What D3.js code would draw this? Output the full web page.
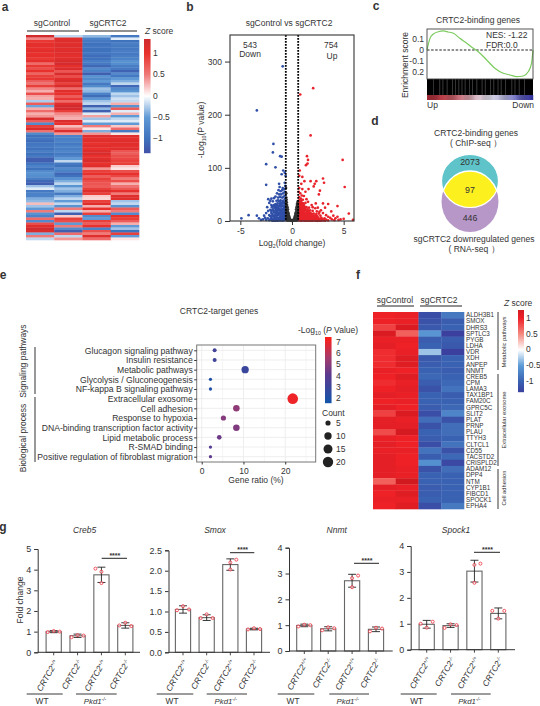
<!DOCTYPE html>
<html><head><meta charset="utf-8">
<script src="https://d3js.org/d3.v7.min.js"></script>
<style>html,body{margin:0;padding:0;background:#fff}svg{display:block}text{font-family:"Liberation Sans",Arial,sans-serif;fill:#333}</style>
</head><body><div id="c"></div>
<script>
// ---------- Panel a ----------
const heatColumnsA = ["sgControl","sgControl","sgCRTC2","sgCRTC2"];
const aCtrl1 = [1.3,.45,.95,1.05,1.05,1.0,1.1,1.0,1.05,.95,1.05,.6,.95,.8,1.0,.65,.9,.95,.7,.55,.9,.45,.3,.8,.35,.3,-.25,.7,-.45,.3,.6,.3,.4,1.2,.7,-.7,.9,1.2,.55,-.7,
 -1,-.95,-1.05,-.95,-.9,-1,-.85,-1,-.9,-1.2,-1.2,-.95,-.8,-1,-.7,-.6,-.65,-.85,-1.1,-1.2,-.3,-.1,-.9,-.8,-.8,-.4,-.35,.25,-.3,-.5,.5,-.6,-.8,.6,-.7,.8,1.1,1.3,1.2,-.4,.5,-.2];
const aCtrl2 = [-.2,1.1,1.15,1.1,1.15,1.1,1.15,1.1,1.05,1.1,1.2,1.25,1.05,1.2,.75,1.2,.8,1.1,1.2,.9,1.2,.6,1.1,1.0,.7,.95,.6,1.1,1.3,1.25,.9,.45,.35,.3,1.2,1.0,.25,.5,1.15,.4,
 -.8,-.85,-.8,-.9,-.8,-.85,-.75,-.9,-.8,-.5,-.2,-.9,-1,-.7,-.8,-1.1,-1,-.6,-.4,-.2,-.6,-.3,-.4,-.9,-.4,-.2,-.5,-.2,-.6,.5,-.2,-1.2,.2,.9,.8,-.5,.5,-.7,-1.2,.6,-.2,.4];
const aCrtc1 = [-.35,-.8,-.9,-1,-.95,-1,-1,-.95,-1.05,-1,-.85,-.9,-1.1,-.7,-.8,-1.2,-.6,-.7,-.5,-.9,-.7,-.3,-.35,-.8,-1.05,-.55,-.3,-.2,-1.2,-.35,-1.2,-.1,.35,-.3,-.1,-.5,.5,.1,-.4,.4,
 1.1,1.05,1.1,1,1.1,1.0,1.15,1.2,1,1.1,1.2,1.0,1.1,.4,.9,1.0,.7,.9,.8,.75,.7,.9,1.15,.9,.2,.15,.9,1.1,.3,1.0,.3,.9,-.7,-.5,.9,.7,1,-.8,.8,.5,1.1,.6];
const aCrtc2 = [-.9,-.1,-1,-.85,-.9,-.9,-.85,-.9,-.85,-.8,-.6,-.65,-.85,-.9,-1.15,-.7,-.9,-.5,-.4,-.2,-1.1,-.7,-.6,-.2,-.3,-.15,-.2,.3,-.6,.7,-.1,.3,-.5,-.2,-.1,-.5,.2,.6,-.9,.1,
 1.1,1.05,1.1,1.1,1.05,1.1,.75,.7,.8,.85,.9,.9,.2,.1,.8,1,.85,.5,.8,.3,.55,.75,1.05,.5,1.1,1.1,-.3,-.2,-.6,.7,.5,-.7,1,.9,.7,.3,-.5,-.3,-1,.9,-.5,.1];
const zTicksA = [1,0.5,0,-0.5,-1];

// ---------- Panel b ----------
const downPts = [[-.9,291],[-3.4,208],[-1.8,145],[-1.85,129],[-1.15,122],[-1.0,121],[-2.5,107],[-1.6,101],[-.85,95],[-.7,91],[-1.0,88],[-.62,85],[-2.5,68],[-1.25,70],[-.9,62],[-.7,72],[-.65,66],[-4.9,5],[-4.2,11],[-3.4,10],[-3.2,5],[-3.0,2],[-2.8,3],[-1.2,64],[-.75,60],[-.95,58],[-1.1,56],[-1.3,58],[-.7,55],[-.85,52],[-1.05,50],[-1.25,50],[-1.45,52],[-.65,48],[-.8,46],[-.95,44],[-1.15,45],[-1.35,44],[-1.6,46],[-1.75,43],[-2.0,42],[-.7,41],[-.9,38],[-1.1,39],[-1.25,37],[-1.5,38],[-1.85,37],[-2.1,38],[-2.3,41],[-.65,36],[-.8,33],[-1.0,34],[-1.2,32],[-1.4,33],[-1.6,32],[-1.75,30],[-2.0,30],[-2.2,34],[-.7,29],[-.9,28],[-1.05,27],[-1.3,28],[-1.5,26],[-1.7,25],[-1.95,26],[-2.4,26],[-.65,24],[-.85,23],[-1.0,22],[-1.2,23],[-1.4,21],[-1.6,20],[-1.85,22],[-2.1,21],[-2.3,19],[-.7,18],[-.9,17],[-1.1,18],[-1.3,16],[-1.5,17],[-1.75,16],[-2.0,15],[-2.5,15],[-.65,13],[-.8,12],[-1.0,13],[-1.15,12],[-1.35,11],[-1.6,12],[-1.8,10],[-2.2,11],[-2.7,10],[-.7,8],[-.95,8],[-1.2,7],[-1.45,7],[-1.7,6],[-2.0,6],[-2.35,5],[-2.6,6],[-.65,4],[-.85,3],[-1.05,4],[-1.25,3],[-1.5,2],[-1.75,3],[-1.95,2],[-2.2,1.5],[-2.5,2],[-.7,1.5],[-.95,1],[-1.15,1],[-1.4,.5],[-1.65,1],[-1.9,.5],[-.75,26],[-.9,15],[-1.1,9],[-1.25,20],[-.8,6],[-1.4,14],[-1.05,31],[-1.3,24],[-1.55,10],[-.62,30],[-.62,20],[-.62,10],[-.68,14],
 [-.75,36],[-.95,33],[-1.15,36],[-1.35,39],[-.8,28],[-1.15,28],[-1.45,30],[-1.65,28],[-1.85,28],[-.75,21],[-.95,20],[-1.15,21],[-1.35,25],[-1.55,23],[-1.8,19],[-2.0,19],[-.78,15],[-1.0,16],[-1.2,15],[-1.45,19],[-1.65,16],[-1.9,13],[-2.1,9],[-.75,10],[-.9,10],[-1.3,12],[-1.5,13],[-1.7,9],[-1.95,9],[-.85,6],[-1.05,6],[-1.3,5],[-1.55,5],[-1.85,4],[-2.1,3],[-.75,3],[-.95,3],[-1.15,2.5],[-1.35,2],[-1.6,2.5],[-.85,.8],[-1.05,1.5],[-1.3,1],[-1.55,.6],[-1.75,.6]];
const upPts = [[2.05,250],[.8,238],[1.8,161],[4.9,115],[1.45,122],[1.55,115],[1.35,105],[1.5,108],[.75,95],[.7,85],[1.0,83],[3.0,80],[3.1,72],[1.2,75],[1.8,75],[2.35,75],[2.2,70],[2.1,65],[5.1,64],[.9,70],[1.0,60],[1.3,55],[1.6,60],[2.7,57],[2.6,50],[3.5,32],[3.0,33],[3.2,25],[4.4,28],[5.5,14],[5.0,4],[5.9,2],[4.7,3],[4.4,8],[4.0,10],[3.8,18],[4.2,5],[3.5,8],[2.8,20],[2.5,25],[.7,62],[.65,55],[.8,52],[.95,48],[1.15,47],[.7,45],[.85,42],[1.05,40],[1.4,41],[.65,38],[.8,35],[.95,34],[1.1,33],[1.3,34],[1.55,36],[1.9,30],[2.3,33],[.68,30],[.85,28],[1.0,29],[1.2,27],[1.4,26],[1.65,25],[2.0,26],[2.25,24],[.65,25],[.8,23],[.95,22],[1.1,24],[1.3,21],[1.5,22],[1.75,20],[2.0,19],[2.4,18],[2.65,17],[.7,19],[.85,18],[1.0,17],[1.15,18],[1.35,16],[1.55,15],[1.8,15],[2.1,14],[2.35,13],[2.6,14],[3.0,15],[.65,14],[.8,13],[.95,12],[1.1,13],[1.25,11],[1.45,12],[1.65,10],[1.9,11],[2.15,10],[2.45,9],[2.75,10],[3.3,11],[.7,10],[.85,9],[1.0,8],[1.15,9],[1.3,7],[1.5,8],[1.7,7],[1.95,6],[2.2,7],[2.5,6],[2.85,6],[3.15,5],[3.7,6],[.65,6],[.8,5],[.95,5],[1.1,4.5],[1.25,5],[1.4,4],[1.6,4],[1.8,3.5],[2.05,4],[2.3,3.5],[2.6,3],[2.95,3],[3.3,2.5],[3.85,3],[4.5,2],[.7,3],[.85,2.5],[1.0,2],[1.15,2.5],[1.3,1.5],[1.5,2],[1.7,1.5],[1.9,1],[2.15,1.5],[2.4,1],[2.7,1.5],[3.05,1],[3.5,1],[4.1,1.5],[.68,1],[.9,.8],[1.2,.6],[1.45,.7],[1.75,.5],[2.0,.6],[2.55,.5],[2.85,.6],[3.2,.5],[.78,16],[1.05,15],[1.22,20],[.88,32],[1.6,18],[1.85,8],[.72,24],[1.35,9],[.62,33],[.62,22],[.62,12],[.62,4],
 [.75,40],[.9,38],[.75,33],[.95,30],[1.15,30],[.72,27],[.9,25],[1.05,26],[1.3,25],[.75,21],[.9,20],[1.05,20],[1.2,23],[1.45,19],[1.65,17],[.78,14],[.9,15],[1.1,16],[1.25,14],[1.45,15],[1.7,13],[1.95,13],[.75,7],[.9,10],[1.05,10],[1.2,12],[1.35,12],[1.55,11],[1.8,12],[2.05,8],[2.3,10],[.75,4],[.92,7],[1.05,6],[1.2,7],[1.4,6],[1.6,6],[1.85,5.5],[2.1,5],[2.35,5.5],[2.7,4.5],[.78,1.5],[.95,3],[1.1,3],[1.25,3],[1.42,2.5],[1.6,2.5],[1.85,2],[2.05,2.5],[2.25,2],[2.5,2],[2.8,2.5],[3.1,2],[.85,.6],[1.05,1],[1.35,.7],[1.6,.8],[1.85,.6],[2.25,.6],[2.45,.4],[2.7,.5]];
const nsPts = [[-.58,62],[-.56,52],[-.55,44],[-.52,40],[-.5,35],[-.55,30],[-.48,30],[-.44,26],[-.52,24],[-.46,20],[-.4,22],[-.55,18],[-.5,15],[-.42,17],[-.36,16],[-.32,13],[-.48,11],[-.4,11],[-.55,8],[-.34,9],[-.28,9],[-.45,7],[-.38,6],[-.3,6],[-.24,6],[-.52,4],[-.42,3.5],[-.33,3.5],[-.26,3.5],[-.2,3.5],[-.16,2.5],[-.5,1],[-.4,1],[-.3,1],[-.22,1.5],[-.14,1.5],[-.1,1],[-.06,.6],[-.02,.3],[.02,.3],[.06,.6],[.1,1],[.14,1.5],[.22,1.5],[.3,1],[.4,1],[.5,1],[.16,2.5],[.2,3.5],[.26,3.5],[.33,3.5],[.42,3.5],[.52,4],[.24,6],[.3,6],[.38,6],[.45,7],[.55,8],[.28,9],[.34,9],[.4,11],[.48,11],[.32,13],[.36,16],[.42,17],[.5,15],[.55,18],[.4,22],[.46,20],[.52,24],[.44,26],[.48,30],[.55,30],[.5,33],[.56,37],[.58,24],[-.35,3],[-.28,2],[.28,2],[.35,3],[-.45,13],[.45,13],[-.5,20],[.5,20],[-.58,34],[.58,14]];
const foldCut = [-0.6,0.6];
const xTicksB = [-5,0,5], yTicksB = [0,100,200,300];

// ---------- Panel c ----------
const esRank = [0,.028,.06,.107,.154,.2,.25,.31,.375,.437,.484,.563,.64,.72,.783,.846,.908,.955,.986,1];
const esVal  = [0,.104,.143,.163,.17,.161,.149,.104,.06,.015,-.015,-.089,-.163,-.208,-.223,-.238,-.232,-.194,-.119,0];
const hitRank = [.06,.12,.15,.19,.24,.27,.3,.33,.36,.4,.43,.47,.52,.55,.6,.63,.67,.7,.74,.8,.83,.87,.92];
const esTicks = [[.1,"0.1"],[0,"0"],[-.1,"-0.1"],[-.2,"0.2"]];
const stripStops = ["#a02a35","#b8404a","#c56a75","#d8b0bb","#dcd8e8","#b8b8dd","#6a6ac0","#2c2c96"];

// ---------- Panel d ----------
const vennLabels = ["2073","97","446"];

// ---------- Panel e ----------
const terms = ["Glucagon signaling pathway","Insulin resistance","Metabolic pathways","Glycolysis / Gluconeogenesis","NF-kappa B signaling pathway","Extracellular exosome","Cell adhesion","Response to hypoxia","DNA-binding transcription factor activity","Lipid metabolic process","R-SMAD binding","Positive regulation of fibroblast migration"];
const geneRatio = [3.1,3.1,10.4,2.1,2.1,21.8,8.3,5.2,8.3,4.2,2.1,2.1];
const termCount = [3,3,10,2,2,21,8,5,8,4,2,2];
const termLogP  = [3.2,3.1,2.9,2.0,2.0,7,5.1,4.9,4.8,4.4,3.8,4.1];
const pTicks = [7,6,5,4,3,2];
const countTicks = [5,10,15,20];

// ---------- Panel f ----------
const genesF = ["ALDH3B1","SMOX","DHRS3","SPTLC3","PYGB","LDHA","VDR","XDH","ANPEP","NNMT","CREB5","CPM","LAMA3","TAX1BP1","FAM20C","GPRC5C","SLIT2","PLAT","PRNP","PLAU","TTYH3","CLTCL1","CD55","TACSTD2","CRISPLD2","ADAM12","DPP4","NTM","CYP1B1","FIBCD1","SPOCK1","EPHA4"];
const fCtrl1 = [1,1,.85,1.2,1.05,1.1,.95,.95,.95,1.05,1.0,.95,1.0,1.1,1.0,1.1,.85,1.1,1.1,.8,1.05,1.1,1.05,1.1,1.1,1.1,1.1,.7,1.1,1.0,1.05,1.0];
const fCtrl2 = [1.05,1.05,1.2,.7,1.05,1,1.05,1.15,1.15,1,1.15,1.05,1.1,1.05,1.05,1.0,1.2,1.05,1.1,1.25,1.0,1.0,1.05,1.0,1.0,1.05,1.05,1.3,1.05,1.15,1.05,1.15];
const fCrtc1 = [-1.2,-1.15,-1.1,-.55,-1.05,-1.0,-.3,-1.1,-1.05,-1,-.95,-1.05,-1.15,-1.0,-1.0,-1.05,-1.2,-.9,-1.15,-1.0,-1.05,-1.2,-.85,-1.05,-.6,-1.15,-1.0,-1.0,-1.05,-1.05,-1.0,-1.2];
const fCrtc2 = [-.8,-1.05,-1.0,-1.35,-1.05,-1.1,-1.35,-1.0,-1.0,-1.05,-1,-.95,-.85,-1.05,-1.0,-.95,-.7,-1.15,-.9,-.9,-1.0,-.85,-1.15,-.95,-1.25,-.9,-1.0,-1.0,-1.0,-1.0,-1.0,-.8];
const zTicksF = [1,0.5,0,-0.5,-1];

// ---------- Panel g ----------
const groupsG = ["+/+","-/-","+/+","-/-"];
const creb5Mean=[1.0,.8,3.75,1.3], creb5Err=[.05,.08,.37,.13], creb5Pts=[[.98,1.03,1.0],[.73,.83,.81],[4.05,3.9,3.35],[1.3,1.43,1.27]];
const smoxMean=[1.05,.85,2.15,.57], smoxErr=[.09,.07,.14,.02], smoxPts=[[1.03,1.13,1.05],[.84,.93,.84],[2.2,2.03,2.27],[.56,.59,.57]];
const nnmtMean=[.99,.86,2.72,.84], nnmtErr=[.05,.08,.25,.09], nnmtPts=[[.95,1.02,1.0],[.8,.92,.88],[2.82,2.47,2.92],[.76,.9,.87]];
const spockMean=[.98,.93,3.03,1.4], spockErr=[.15,.07,.42,.21], spockPts=[[1.0,.85,1.08],[.84,.98,.95],[3.27,2.58,3.32],[1.5,1.2,1.5]];

// ---------- Drawing ----------
const svg = d3.select("#c").append("svg").attr("width",540).attr("height",706);
const INK="#333";
function txt(g,x,y,parts,o={}){
  const sz=o.size||8.5;
  const el=g.append("text").attr("font-size",sz).attr("text-anchor",o.anchor||"middle")
    .attr("font-weight",o.weight||null).attr("font-style",o.style||null).attr("fill",o.fill||INK)
    .attr("transform",`translate(${x},${y}) rotate(${o.rotate||0})`).attr("dy",".35em");
  let back=0;
  (Array.isArray(parts)?parts:[parts]).forEach(p=>{
    const isStr=typeof p==="string";
    const shift=isStr?0:(p.sub?sz*.28:p.sup?-sz*.35:0);
    const fs=(!isStr&&(p.sub||p.sup))?sz*.62:sz;
    const d=shift-back; back=shift;
    el.append("tspan").attr("font-size",fs).attr("font-style",(!isStr&&p.i)?"italic":null).attr("dy",d||null).text(isStr?p:p.t);
  });
  return el;
}
function hline(g,x1,x2,y,w=1,c="#222"){g.append("line").attr("x1",x1).attr("x2",x2).attr("y1",y).attr("y2",y).attr("stroke",c).attr("stroke-width",w);}
function vline(g,x,y1,y2,w=1,c="#222"){g.append("line").attr("x1",x).attr("x2",x).attr("y1",y1).attr("y2",y2).attr("stroke",c).attr("stroke-width",w);}
function styleAxis(a,fs=8.5){a.selectAll("text").attr("font-size",fs).attr("fill",INK).attr("font-family",'"Liberation Sans"');a.selectAll("path,line").attr("stroke","#333");}
// Panel letters
[["a",5,7],["b",190,7],["c",376,6],["d",375,121],["e",3,275],["f",358,275],["g",3,527]].forEach(l=>txt(svg,l[1],l[2],l[0],{size:12,weight:"bold",fill:"#111"}));

function colorbar(g,scale,x,w,y0,y1,col){
  const d=scale.domain();const yS=d3.scaleLinear().domain([d[0],d[d.length-1]]).range([y0,y1]);
  g.selectAll(null).data(d3.range(y1,y0,1)).join("rect").attr("x",x).attr("y",v=>v).attr("width",w).attr("height",1.2)
    .attr("fill",v=>col(yS.invert(v)));
  return yS;
}
// a
const colA=d3.scaleLinear().domain([-1.35,-1,-.5,0,.5,1,1.33]).range(["#4150a6","#3f72bd","#5f9ad6","#ffffff","#ef7a78","#e8302c","#cf2a2e"]);
const ga=svg.append("g");
const xa=d3.scaleBand().domain(d3.range(4)).range([26,139]);
const ya=d3.scaleBand().domain(d3.range(aCtrl1.length)).range([35,240]);
[aCtrl1,aCtrl2,aCrtc1,aCrtc2].forEach((col,c)=>{
  ga.append("g").selectAll("rect").data(col).join("rect").attr("x",xa(c)).attr("width",xa.bandwidth()+.3)
    .attr("y",(d,i)=>ya(i)).attr("height",ya.bandwidth()+.3).attr("fill",d=>colA(d));
});
txt(ga,52,23,heatColumnsA[0],{}); txt(ga,108,23,heatColumnsA[2],{});
hline(ga,27,79,31,1); hline(ga,85,137,31,1);
txt(ga,145,31,[{t:"Z",i:1}," score"],{anchor:"start"});
const yza=colorbar(ga,d3.scaleLinear().domain([-1.35,1.33]),144,6.5,153,39,colA);
zTicksA.forEach(v=>txt(ga,153,yza(v),v<0?"\u2212"+Math.abs(v):String(v),{anchor:"start"}));

// b
const gb=svg.append("g");
const xb=d3.scaleLinear().domain([-6,6]).range([230,354]);
const yb=d3.scaleLinear().domain([0,350]).range([221,35]);
gb.append("g").attr("fill","#2f4fa8").selectAll("circle").data(downPts).join("circle").attr("cx",d=>xb(d[0])).attr("cy",d=>yb(d[1])).attr("r",1.35);
gb.append("g").attr("fill","#e8232b").selectAll("circle").data(upPts).join("circle").attr("cx",d=>xb(d[0])).attr("cy",d=>yb(d[1])).attr("r",1.35);
gb.append("g").attr("fill","#333").selectAll("circle").data(nsPts).join("circle").attr("cx",d=>xb(d[0])).attr("cy",d=>yb(d[1])).attr("r",1.35);
foldCut.forEach(f=>gb.append("line").attr("x1",xb(f)).attr("x2",xb(f)).attr("y1",35).attr("y2",221).attr("stroke","#000").attr("stroke-width",1.8).attr("stroke-dasharray","1.8 1.2"));
gb.append("rect").attr("x",230).attr("y",35).attr("width",124).attr("height",186).attr("fill","none").attr("stroke","#333").attr("stroke-width",1.1);
const axb=gb.append("g").attr("transform","translate(0,221)").call(d3.axisBottom(xb).tickValues(xTicksB).tickSize(4).tickFormat(d=>d));
const ayb=gb.append("g").attr("transform","translate(230,0)").call(d3.axisLeft(yb).tickValues(yTicksB).tickSize(5).tickFormat(d=>d));
styleAxis(axb);styleAxis(ayb);axb.select("path").attr("display","none");ayb.select("path").attr("display","none");
txt(gb,289,23,"sgControl vs  sgCRTC2");
txt(gb,250,45,"543");txt(gb,250,54,"Down");txt(gb,331,45,"754");txt(gb,332,56,"Up");
txt(gb,201,130,["-Log",{t:"10",sub:1},"(P value)"],{rotate:-90});
txt(gb,292,243,["Log",{t:"2",sub:1},"(fold change)"]);

// c
const gc=svg.append("g");
const xc=d3.scaleLinear().domain([0,1]).range([427,533]);
const yc=d3.scaleLinear().domain([-.259,.1875]).range([79,29]);
gc.append("rect").attr("x",427).attr("y",79).attr("width",106).attr("height",21).attr("fill","#000");
gc.selectAll(".hit").data(hitRank).join("line").attr("x1",d=>xc(d)).attr("x2",d=>xc(d)).attr("y1",79).attr("y2",95).attr("stroke","#777").attr("stroke-width",.7).attr("opacity",.7);
const stripColor=d3.scaleLinear().domain(stripStops.map((_,i)=>i/(stripStops.length-1))).range(stripStops);
gc.selectAll(".st").data(d3.range(0,1,.01)).join("rect").attr("x",d=>xc(d)).attr("y",95).attr("width",1.3).attr("height",5).attr("fill",d=>stripColor(d));
gc.append("line").attr("x1",427).attr("x2",533).attr("y1",50).attr("y2",50).attr("stroke","#222").attr("stroke-width",1).attr("stroke-dasharray","2.5 1.6");
gc.append("path").datum(esRank.map((r,i)=>[r,esVal[i]])).attr("fill","none").attr("stroke","#7ccb5f").attr("stroke-width",1.2)
  .attr("d",d3.line().x(d=>xc(d[0])).y(d=>yc(d[1])).curve(d3.curveMonotoneX));
gc.append("rect").attr("x",427).attr("y",29).attr("width",106).attr("height",50).attr("fill","none").attr("stroke","#444").attr("stroke-width",.9);
esTicks.forEach(t=>txt(gc,424,yc(t[0]),t[1],{anchor:"end"}));
txt(gc,478,20,"CRTC2-binding genes");
txt(gc,486,35,"NES: -1.22",{anchor:"start"});txt(gc,486,45,"FDR:0.0",{anchor:"start"});
txt(gc,405,65,"Enrichment score",{rotate:-90});
txt(gc,427,105,"Up",{anchor:"start"});txt(gc,534,105,"Down",{anchor:"end"});

// d
const gd=svg.append("g");
const defs=svg.append("defs");
defs.append("clipPath").attr("id","lens").append("ellipse").attr("cx",470).attr("cy",181).attr("rx",28.5).attr("ry",26.5);
gd.append("ellipse").attr("cx",470).attr("cy",181).attr("rx",28.5).attr("ry",26.5).attr("fill","#5fc4c9");
gd.append("ellipse").attr("cx",470).attr("cy",201.5).attr("rx",28.5).attr("ry",30.5).attr("fill","#b796c8");
gd.append("ellipse").attr("cx",470).attr("cy",201.5).attr("rx",28.5).attr("ry",30.5).attr("fill","#fdf01f").attr("stroke","#fff").attr("stroke-width",1.4).attr("clip-path","url(#lens)");
gd.append("ellipse").attr("cx",470).attr("cy",181).attr("rx",28.5).attr("ry",26.5).attr("fill","none").attr("stroke","#fff").attr("stroke-width",1.2);
txt(gd,470,162,vennLabels[0],{size:8.8});txt(gd,470,190,vennLabels[1],{size:8.8});txt(gd,470,218,vennLabels[2],{size:8.8});
txt(gd,476,133,"CRTC2-binding genes");txt(gd,476,143,"( ChIP-seq \uFF09");
txt(gd,474,239,"sgCRTC2 downregulated genes");txt(gd,474,249,"( RNA-seq \uFF09");

// e
const ge=svg.append("g");
const xe=d3.scaleLinear().domain([-1.2,27.3]).range([196.7,315.7]);
const ye=d3.scalePoint().domain(terms).range([350.3,456.7]);
[0,5,10,15,20,25].forEach(v=>vline(ge,xe(v),345,462,v%10?.5:.9,"#ececec"));
terms.forEach(t=>hline(ge,196.7,315.7,ye(t),.9,"#ececec"));
const colP=d3.scaleLinear().domain([2,4,5.5,7]).range(["#1f50a5","#5a3a90","#a23b6e","#ee2428"]);
const rE=d3.scaleSqrt().domain([0,21]).range([0,5.3]);
ge.selectAll("circle").data(terms).join("circle").attr("cx",(d,i)=>xe(geneRatio[i])).attr("cy",d=>ye(d)).attr("r",(d,i)=>rE(termCount[i])).attr("fill",(d,i)=>colP(termLogP[i]));
ge.append("rect").attr("x",196.7).attr("y",345).attr("width",119).attr("height",117).attr("fill","none").attr("stroke","#777").attr("stroke-width",1);
const axe=ge.append("g").attr("transform","translate(0,462)").call(d3.axisBottom(xe).tickValues([0,10,20]).tickSize(2.5).tickFormat(d=>d));
const aye=ge.append("g").attr("transform","translate(196.7,0)").call(d3.axisLeft(ye).tickSize(2.5));
styleAxis(axe,8.5);styleAxis(aye,8.65);axe.select("path").attr("display","none");aye.select("path").attr("display","none");
aye.selectAll("text").attr("x",-4);
txt(ge,219,311,"CRTC2-target genes");
txt(ge,23,361,"Signaling pathways",{rotate:-90});txt(ge,23,438,"Biological process",{rotate:-90});
vline(ge,35,347,394,1,"#333");vline(ge,35,397,462,1,"#333");
txt(ge,256,480,"Gene ratio (%)");
txt(ge,298,330,["-Log",{t:"10",sub:1}," (",{t:"P",i:1}," Value)"],{anchor:"start"});
const yzp=colorbar(ge,d3.scaleLinear().domain([1.5,7.35]),325,6.5,403,337,colP);
pTicks.forEach(v=>txt(ge,336,342+(7-v)*11.2,String(v),{anchor:"start"}));
txt(ge,322,413,"Count",{anchor:"start"});
countTicks.forEach((c,i)=>{ge.append("circle").attr("cx",328).attr("cy",423+i*13).attr("r",rE(c)).attr("fill","#222");txt(ge,336,423+i*13,String(c),{anchor:"start"});});

// f
const gf=svg.append("g");
const colF=d3.scaleLinear().domain([-1.35,-1,-.5,0,.5,1,1.3]).range(["#3b3f9e","#3a62b2","#5b9bd6","#ffffff","#f48a80","#ee2127","#d01a20"]);
const xf=d3.scaleBand().domain(d3.range(4)).range([373,464]);
const yf=d3.scaleBand().domain(genesF).range([312,509]);
[fCtrl1,fCtrl2,fCrtc1,fCrtc2].forEach((col,c)=>{
  gf.append("g").selectAll("rect").data(col).join("rect").attr("x",xf(c)).attr("width",xf.bandwidth()+.3)
   .attr("y",(d,i)=>yf(genesF[i])).attr("height",yf.bandwidth()+.3).attr("fill",d=>colF(d));
});
genesF.forEach(g=>txt(gf,466,yf(g)+yf.bandwidth()/2,g,{anchor:"start",size:6.3,fill:"#222"}));
txt(gf,395,300,"sgControl",{size:8.5});txt(gf,439,300,"sgCRTC2",{size:8.5});
hline(gf,377,414,306,1);hline(gf,420,462,306,1);
vline(gf,498,312,370,.9);vline(gf,498,374,466,.9);vline(gf,498,469,509,.9);
txt(gf,504,342,"Metabolic pathways",{rotate:-90,size:5.8});
txt(gf,504,420,"Extracellular exosome",{rotate:-90,size:5.8});
txt(gf,504,488,"Cell adhesion",{rotate:-90,size:5.8});
txt(gf,504,303,[{t:"Z",i:1}," score"],{anchor:"start"});
const yzf=colorbar(gf,d3.scaleLinear().domain([-1.35,1.25]),518,6,392,310,colF);
zTicksF.forEach(v=>txt(gf,526,yzf(v),v<0?"-"+Math.abs(v):String(v),{anchor:"start"}));

// g
const jitter=[[-1,0,1],[-1,0,1],[0,0,1],[-1,0,1]];
function barPanel(p){
  const g=svg.append("g");
  const x=d3.scalePoint().domain([0,1,2,3]).range(p.cx);
  const y=d3.scaleLinear().domain([0,p.max]).range([p.y0,p.yTop]);
  g.selectAll("rect").data(p.mean).join("rect").attr("x",(d,i)=>x(i)-7.6).attr("width",15.2).attr("y",d=>y(d)).attr("height",d=>p.y0-y(d))
    .attr("fill","#fff").attr("stroke","#666").attr("stroke-width",1.1);
  p.mean.forEach((m,i)=>{
    vline(g,x(i),y(m+p.err[i]),y(m-p.err[i]),.9,"#222");
    hline(g,x(i)-4,x(i)+4,y(m+p.err[i]),.9,"#222");hline(g,x(i)-4,x(i)+4,y(m-p.err[i]),.9,"#222");
    p.pts[i].forEach((v,k)=>{
      const jit=(p.jit||jitter)[i][k]*6;
      g.append("circle").attr("cx",x(i)+jit).attr("cy",y(v)).attr("r",1.5).attr("fill","#fff").attr("fill-opacity",.6).attr("stroke","#ec2f3c").attr("stroke-width",.8);
    });
  });
  const ax=g.append("g").attr("transform",`translate(${p.axisX},0)`).call(d3.axisLeft(y).tickValues(p.ticks).tickSize(3.5).tickFormat(p.fmt||(d=>d)));
  styleAxis(ax,9);
  hline(g,p.axisX,p.xEnd,p.y0,1,"#333");
  groupsG.forEach((s,i)=>{
    vline(g,x(i),p.y0,p.y0+3,.9,"#333");
    const t=g.append("text").attr("font-size",8.4).attr("font-style","italic").attr("text-anchor","end")
      .attr("transform",`translate(${x(i)+2.5},${p.y0+8}) rotate(-60)`).attr("dy",".35em");
    t.append("tspan").text("CRTC2");
    t.append("tspan").attr("font-size",5).attr("dy",-2.8).text(s);
  });
  hline(g,p.sig[0],p.sig[1],p.sig[2],1,"#222");
  txt(g,(p.sig[0]+p.sig[1])/2+.5,p.sig[2]-3,"****",{size:7,weight:"bold"});
  txt(g,p.titleX,530,p.title,{style:"italic"});
  hline(g,p.wt[0],p.wt[1],694,.9,"#222");hline(g,p.pk[0],p.pk[1],694,.9,"#222");
  txt(g,p.wtX,701.5,"WT",{size:8.3});
  txt(g,p.pkX,701,[{t:"Pkd1",i:1},{t:"-/-",i:1,sup:1}],{size:7.8,style:"italic"});
}
barPanel({title:"Creb5",titleX:84.7,axisX:37.7,xEnd:140,y0:652.3,yTop:549,max:5,ticks:[0,1,2,3,4,5],cx:[53.7,125.3],mean:creb5Mean,err:creb5Err,pts:creb5Pts,sig:[101.7,127,558.3],wt:[26.7,62.7],pk:[76,116.7],wtX:42,pkX:95,jit:[[-1,0,1],[-1,0,1],[-1,0,0],[-1,0,1]]});
barPanel({title:"Smox",titleX:215,axisX:168.5,xEnd:270,y0:652.3,yTop:550.3,max:2.5,ticks:[0,.5,1,1.5,2,2.5],fmt:d3.format(".1f"),cx:[183,254],mean:smoxMean,err:smoxErr,pts:smoxPts,sig:[230,254.3,552.7],wt:[156.7,193.3],pk:[206.7,247],wtX:172,pkX:225.7});
barPanel({title:"Nnmt",titleX:336.7,axisX:289,xEnd:392.7,y0:651,yTop:547.7,max:4,ticks:[0,1,2,3,4],cx:[304.3,376],mean:nnmtMean,err:nnmtErr,pts:nnmtPts,sig:[354,379,563.3],wt:[277.7,314.3],pk:[329.3,369],wtX:293,pkX:347.7});
barPanel({title:"Spock1",titleX:456,axisX:410.7,xEnd:515,y0:649.7,yTop:546,max:4,ticks:[0,1,2,3,4],cx:[426.7,498.3],mean:spockMean,err:spockErr,pts:spockPts,sig:[474,500,552.3],wt:[400.7,436.7],pk:[451,490.7],wtX:416.7,pkX:469.3});
txt(svg,20,600,"Fold change",{rotate:-90});
</script></body></html>
